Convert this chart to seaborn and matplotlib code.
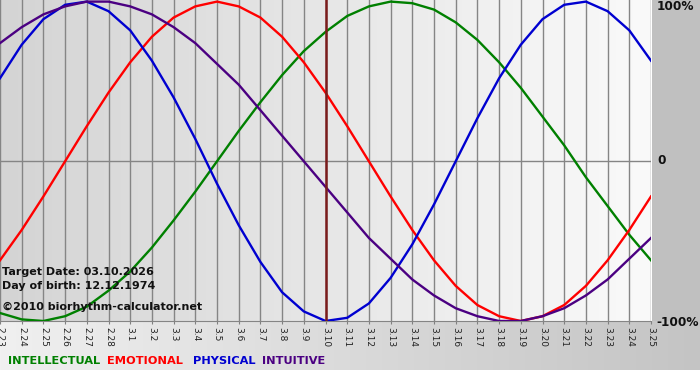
import numpy as np
import pandas as pd
import matplotlib
matplotlib.use("Agg")
import matplotlib.pyplot as plt
import seaborn as sns

# ---- data ----
dates = ["2.23", "2.24", "2.25", "2.26", "2.27", "2.28",
         "3.1", "3.2", "3.3", "3.4", "3.5", "3.6", "3.7", "3.8", "3.9", "3.10",
         "3.11", "3.12", "3.13", "3.14", "3.15", "3.16", "3.17", "3.18", "3.19",
         "3.20", "3.21", "3.22", "3.23", "3.24", "3.25"]
physical = [0.52, 0.73, 0.89, 0.98, 1.00, 0.94, 0.82, 0.63, 0.40, 0.14, -0.14,
            -0.40, -0.63, -0.82, -0.94, -1.00, -0.98, -0.89, -0.73, -0.52, -0.27,
            0.00, 0.27, 0.52, 0.73, 0.89, 0.98, 1.00, 0.94, 0.82, 0.63]
emotional = [-0.62, -0.43, -0.22, 0.00, 0.22, 0.43, 0.62, 0.78, 0.90, 0.97, 1.00,
             0.97, 0.90, 0.78, 0.62, 0.43, 0.22, 0.00, -0.22, -0.43, -0.62,
             -0.78, -0.90, -0.97, -1.00, -0.97, -0.90, -0.78, -0.62, -0.43, -0.22]
intellectual = [-0.95, -0.99, -1.00, -0.97, -0.91, -0.81, -0.69, -0.54, -0.37, -0.19, 0.00,
                0.19, 0.37, 0.54, 0.69, 0.81, 0.91, 0.97, 1.00, 0.99, 0.95,
                0.87, 0.76, 0.62, 0.46, 0.28, 0.10, -0.10, -0.28, -0.46, -0.62]
intuitive = [0.74, 0.84, 0.92, 0.97, 1.00, 1.00, 0.97, 0.92, 0.84, 0.74, 0.61,
             0.48, 0.32, 0.16, 0.00, -0.16, -0.32, -0.48, -0.61, -0.74, -0.84,
             -0.92, -0.97, -1.00, -1.00, -0.97, -0.92, -0.84, -0.74, -0.61, -0.48]
target_label = "3.10"
series_names = ["INTELLECTUAL", "EMOTIONAL", "PHYSICAL", "INTUITIVE"]
colors = {"INTELLECTUAL": "#008000", "EMOTIONAL": "#ff0000",
          "PHYSICAL": "#0000d0", "INTUITIVE": "#4b0082"}

W, H = 700, 380
fig = plt.figure(figsize=(W / 100, H / 100), dpi=100)
fig.patch.set_facecolor("white")

# ---- background decoration ----
bg = fig.add_axes([0, 0, 1, 1], zorder=-5)
bg.set_axis_off()
img = np.ones((H, W, 3))
gx = np.linspace(0xf0, 0xc4, W) / 255.0
img[321:370, :, :] = gx[None, :, None]
img[0:321, 652:, :] = 0xc0 / 255.0
bg.imshow(img, extent=[0, W, H, 0], aspect="auto", interpolation="nearest")
bg.set_xlim(0, W)
bg.set_ylim(H, 0)

# ---- main axes ----
pl, pr, pt, pb = 0, 651, 0, 321
ax = fig.add_axes([pl / W, 1 - pb / H, (pr - pl) / W, (pb - pt) / H])
ax.set_xlim(0, len(dates) - 1)
ax.set_ylim(-1.0, 1.01)

grad = np.linspace(0xd4, 0xfa, 256)[None, :] / 255.0
ax.imshow(np.dstack([grad] * 3), extent=[0, len(dates) - 1, -1.0, 1.01],
          aspect="auto", zorder=0, interpolation="bilinear")

df = pd.DataFrame({
    "x": list(range(len(dates))) * 4,
    "value": intellectual + emotional + physical + intuitive,
    "series": sum([[n] * len(dates) for n in series_names], []),
})
sns.lineplot(data=df, x="x", y="value", hue="series", palette=colors,
             hue_order=series_names, linewidth=1.7, ax=ax, legend=False,
             zorder=3)

ax.set_xticks(range(len(dates)))
ax.set_xticklabels(dates, rotation=270, fontsize=6.5, color="#222222")
ax.tick_params(axis="x", length=2, color="#808080", pad=2)
ax.set_yticks([])
ax.grid(False)
for xi in range(len(dates)):
    ax.axvline(xi, color="#858585", lw=1.0, zorder=1)
ax.axhline(0, color="#858585", lw=1.0, zorder=1)
ax.axvline(dates.index(target_label), color="#7a1c1c", lw=1.8, zorder=4)
for s in ["top", "left", "right"]:
    ax.spines[s].set_visible(False)
ax.spines["bottom"].set_color("#858585")
ax.set_xlabel("")
ax.set_ylabel("")
ax.set_facecolor("none")


def ftext(x, y, s, **kw):
    fig.text(x / W, 1 - y / H, s, **kw)


# right-side percentage labels
ftext(657, 7, "100%", fontsize=8.7, fontweight="bold", va="center", ha="left", color="#111111")
ftext(657, 161, "0", fontsize=8.7, fontweight="bold", va="center", ha="left", color="#111111")
ftext(656, 322, "-100%", fontsize=8.7, fontweight="bold", va="center", ha="left", color="#111111")

# info texts
ftext(2, 272, "Target Date: 03.10.2026", fontsize=8, fontweight="bold", va="center", color="#111111")
ftext(2, 286, "Day of birth: 12.12.1974", fontsize=8, fontweight="bold", va="center", color="#111111")
ftext(2, 307, "\u00a92010 biorhythm-calculator.net", fontsize=8, fontweight="bold", va="center", color="#111111")

# legend texts
leg_x = [8, 107, 193, 262]
for name, lx in zip(series_names, leg_x):
    ftext(lx, 361, name, fontsize=8.2, fontweight="bold", va="center", ha="left", color=colors[name])

fig.savefig("out.png", dpi=100)
